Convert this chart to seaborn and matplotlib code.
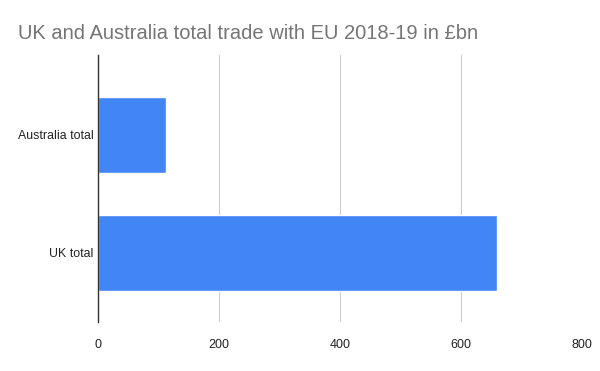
import matplotlib
matplotlib.use('Agg')
import matplotlib.pyplot as plt
import seaborn as sns
import pandas as pd

# Data
categories = ['Australia total', 'UK total']
values = [112, 660]
x_ticks = [0, 200, 400, 600, 800]

df = pd.DataFrame({'country': categories, 'trade': values})

sns.set_style('white')
plt.rcParams['font.family'] = ['Liberation Sans', 'DejaVu Sans']

fig = plt.figure(figsize=(6, 3.71), dpi=100)
ax = fig.add_axes([0.1633, 0.132, 0.8062, 0.72])

sns.barplot(data=df, x='trade', y='country', orient='h', color='#4285F4',
            width=0.64, saturation=1, ax=ax, zorder=3)

ax.set_xlim(0, 800)
ax.set_ylim(1.585, -0.678)
ax.set_xticks(x_ticks)
ax.set_xticklabels([str(t) for t in x_ticks], fontsize=9, color='#222222')
ax.tick_params(axis='y', labelsize=8.9, labelcolor='#222222', length=0, pad=3)
ax.tick_params(axis='x', length=0, pad=12)
ax.xaxis.grid(True, color='#cccccc', linewidth=0.8, zorder=0)
ax.set_xlabel('')
ax.set_ylabel('')

for side in ['top', 'right', 'bottom']:
    ax.spines[side].set_visible(False)
ax.spines['left'].set_color('#333333')
ax.spines['left'].set_linewidth(1)
ax.spines['left'].set_zorder(4)

fig.text(0.03, 0.91, 'UK and Australia total trade with EU 2018-19 in £bn',
         fontsize=14.5, color='#757575', va='center', ha='left')

fig.savefig('out.png', dpi=100)
